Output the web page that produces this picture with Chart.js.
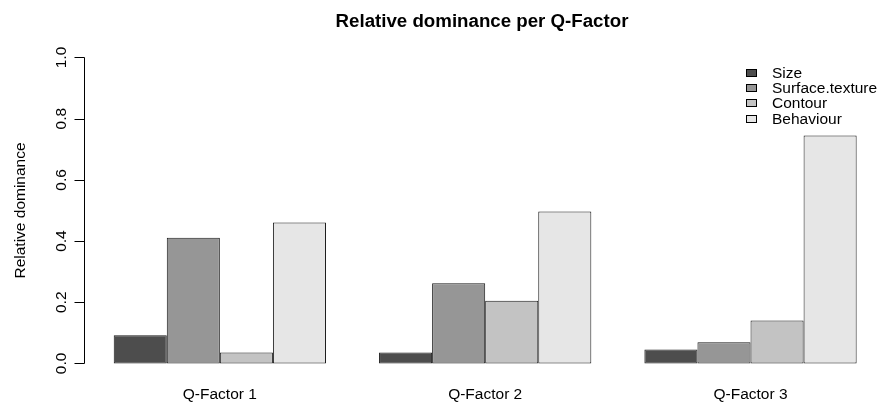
<!DOCTYPE html>
<html lang="en">
<head>
<meta charset="UTF-8">
<title>Relative dominance per Q-Factor</title>
<script src="https://cdn.jsdelivr.net/npm/chart.js"></script>
<style>
  html, body { margin: 0; padding: 0; background: #fff; overflow: hidden; }
  canvas { display: block; }
</style>
</head>
<body>
<canvas id="chart" width="880" height="403"></canvas>
<script>
const categories = ["Q-Factor 1", "Q-Factor 2", "Q-Factor 3"];
const seriesNames = ["Size", "Surface.texture", "Contour", "Behaviour"];
const sizeValues = [0.092, 0.036, 0.046];
const surfaceValues = [0.411, 0.262, 0.069];
const contourValues = [0.036, 0.205, 0.140];
const behaviourValues = [0.461, 0.497, 0.745];
const yTicks = [0, 0.2, 0.4, 0.6, 0.8, 1.0];
const yTickLabels = ["0.0", "0.2", "0.4", "0.6", "0.8", "1.0"];
const greys = ["#4D4D4D", "#969696", "#C3C3C3", "#E6E6E6"];

const FONT = "'Liberation Sans', Arial, Helvetica, sans-serif";

// like R barplot(beside=TRUE): 4 bars per group, one bar of space before each group
const groupCenter = i => 3 + 5 * i;

const allValues = [sizeValues, surfaceValues, contourValues, behaviourValues];
const datasets = seriesNames.map((name, s) => ({
  label: name,
  data: allValues[s].map((v, i) => ({ x: groupCenter(i), y: v })),
  backgroundColor: greys[s],
  borderColor: "#1a1a1a",
  borderWidth: 1,
  borderSkipped: false,
  categoryPercentage: 0.8,
  barPercentage: 1.0
}));

// axes, labels and legend drawn R-style on top of the library scales
const rDecor = {
  id: "rDecor",
  afterDraw(chart) {
    const ctx = chart.ctx;
    const xs = chart.scales.x, ys = chart.scales.y;
    const ax = Math.round(chart.chartArea.left) + 0.5;
    ctx.save();
    ctx.strokeStyle = "#000";
    ctx.fillStyle = "#000";
    ctx.lineWidth = 1;

    // y axis line + ticks
    const y0 = ys.getPixelForValue(yTicks[0]);
    const y1 = ys.getPixelForValue(yTicks[yTicks.length - 1]);
    ctx.beginPath();
    ctx.moveTo(ax, Math.round(y0) + 0.5);
    ctx.lineTo(ax, Math.round(y1) + 0.5);
    yTicks.forEach(t => {
      const py = Math.round(ys.getPixelForValue(t)) + 0.5;
      ctx.moveTo(ax, py);
      ctx.lineTo(ax - 10, py);
    });
    ctx.stroke();

    // y tick labels, rotated
    ctx.font = "15.5px " + FONT;
    ctx.textAlign = "center";
    ctx.textBaseline = "alphabetic";
    yTicks.forEach((t, k) => {
      ctx.save();
      ctx.translate(ax - 19, ys.getPixelForValue(t));
      ctx.rotate(-Math.PI / 2);
      ctx.fillText(yTickLabels[k], 0, 0);
      ctx.restore();
    });

    // y title
    ctx.save();
    ctx.translate(ax - 60, (y0 + y1) / 2);
    ctx.rotate(-Math.PI / 2);
    ctx.fillText("Relative dominance", 0, 0);
    ctx.restore();

    // group names
    categories.forEach((c, i) => {
      ctx.fillText(c, xs.getPixelForValue(groupCenter(i)), 398.5);
    });

    // legend
    ctx.textAlign = "left";
    seriesNames.forEach((name, s) => {
      const cy = 72 + s * 15.4;
      ctx.fillStyle = greys[s];
      ctx.fillRect(746.5, Math.round(cy - 3.5) + 0.5, 10, 7);
      ctx.strokeRect(746.5, Math.round(cy - 3.5) + 0.5, 10, 7);
      ctx.fillStyle = "#000";
      ctx.fillText(name, 772, cy + 5.5);
    });
    ctx.restore();
  }
};

new Chart(document.getElementById("chart"), {
  type: "bar",
  data: { datasets },
  options: {
    responsive: false,
    animation: false,
    layout: { padding: { left: 84, right: 0, top: 0, bottom: 27.3 } },
    scales: {
      x: {
        type: "linear",
        min: 0.44,
        max: 15.44,
        offset: false,
        display: false,
        afterBuildTicks: s => { s.ticks = categories.map((c, i) => ({ value: groupCenter(i) })); }
      },
      y: { min: -0.04, max: 1.04, display: false }
    },
    plugins: {
      legend: { display: false },
      tooltip: { enabled: false },
      title: {
        display: true,
        text: "Relative dominance per Q-Factor",
        color: "#000",
        fullSize: false,
        font: { family: FONT, size: 18.7, weight: "bold" },
        padding: { top: 11, bottom: 11.8 }
      }
    }
  },
  plugins: [rDecor]
});
</script>
</body>
</html>
